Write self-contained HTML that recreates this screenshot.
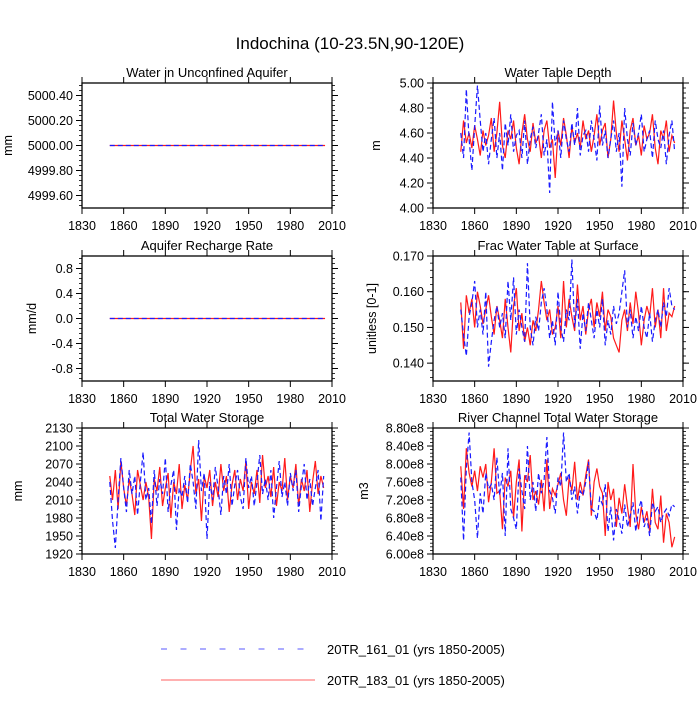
<!DOCTYPE html>
<html><head><meta charset="utf-8"><style>
body{margin:0;background:#fff;}
svg text{font-family:"Liberation Sans",sans-serif;fill:#000;}
</style></head><body>
<svg id="chart" width="700" height="700" viewBox="0 0 700 700" xmlns="http://www.w3.org/2000/svg">
<text x="350" y="49" font-size="17" text-anchor="middle">Indochina (10-23.5N,90-120E)</text>
<g>
<line x1="161" y1="649" x2="315" y2="649" stroke="#5a5aff" stroke-width="1" stroke-dasharray="6,13.5"/>
<text x="327" y="654" font-size="13">20TR_161_01 (yrs 1850-2005)</text>
<line x1="161" y1="680" x2="315" y2="680" stroke="#ff6060" stroke-width="1"/>
<text x="327" y="685" font-size="13">20TR_183_01 (yrs 1850-2005)</text>
</g>
</svg>
<script>
const xTicks=[1830,1860,1890,1920,1950,1980,2010];
const startYear=1850, stepYears=2;
const aquiferRed=[5000,5000], aquiferBlue=[5000,5000];
const rechargeRed=[0,0], rechargeBlue=[0,0];
const depthRed=[4.45,4.70,4.52,4.60,4.48,4.66,4.55,4.42,4.62,4.50,4.58,4.72,4.45,4.60,4.85,4.50,4.40,4.62,4.55,4.70,4.48,4.35,4.60,4.75,4.55,4.45,4.68,4.52,4.58,4.40,4.62,4.70,4.48,4.55,4.24,4.62,4.50,4.72,4.58,4.40,4.65,4.52,4.60,4.48,4.70,4.55,4.62,4.45,4.58,4.75,4.50,4.62,4.68,4.40,4.55,4.86,4.60,4.45,4.70,4.55,4.38,4.62,4.72,4.50,4.58,4.42,4.66,4.55,4.60,4.75,4.48,4.35,4.62,4.55,4.70,4.45,4.58,4.52];
const depthBlue=[4.60,4.40,4.95,4.55,4.30,4.65,4.98,4.70,4.45,4.60,4.35,4.55,4.72,4.40,4.60,4.30,4.68,4.50,4.75,4.45,4.58,4.62,4.40,4.70,4.35,4.55,4.65,4.48,4.60,4.75,4.42,4.55,4.12,4.85,4.50,4.62,4.40,4.70,4.55,4.45,4.68,4.50,4.80,4.42,4.58,4.62,4.45,4.70,4.55,4.38,4.82,4.50,4.62,4.40,4.55,4.70,4.45,4.60,4.17,4.80,4.55,4.42,4.68,4.50,4.60,4.75,4.45,4.55,4.62,4.40,4.70,4.55,4.48,4.62,4.35,4.58,4.70,4.45];
const fracRed=[0.157,0.144,0.159,0.154,0.158,0.150,0.160,0.156,0.151,0.155,0.159,0.153,0.148,0.156,0.152,0.147,0.158,0.150,0.143,0.156,0.161,0.149,0.154,0.146,0.150,0.145,0.152,0.149,0.155,0.163,0.157,0.152,0.155,0.148,0.150,0.156,0.147,0.163,0.150,0.158,0.153,0.149,0.162,0.152,0.156,0.148,0.155,0.158,0.150,0.157,0.153,0.160,0.149,0.155,0.153,0.147,0.145,0.143,0.152,0.155,0.149,0.157,0.151,0.160,0.154,0.145,0.152,0.156,0.153,0.161,0.150,0.155,0.147,0.161,0.149,0.154,0.153,0.156];
const fracBlue=[0.155,0.148,0.142,0.153,0.157,0.163,0.150,0.155,0.148,0.160,0.139,0.146,0.152,0.156,0.150,0.154,0.147,0.163,0.152,0.164,0.148,0.155,0.150,0.146,0.168,0.150,0.145,0.153,0.149,0.157,0.161,0.155,0.147,0.152,0.145,0.160,0.150,0.146,0.155,0.152,0.169,0.150,0.158,0.144,0.154,0.149,0.157,0.152,0.147,0.155,0.150,0.158,0.145,0.152,0.148,0.156,0.151,0.154,0.160,0.166,0.150,0.155,0.147,0.153,0.149,0.156,0.150,0.147,0.154,0.146,0.152,0.155,0.150,0.157,0.153,0.161,0.156,0.155];
const twsRed=[2050,2010,2060,1995,2075,2030,2000,2045,2020,1985,2060,2035,2010,2040,2015,1945,2045,2025,2065,2000,2030,2055,1980,2040,2020,2070,1995,2035,2010,2060,2100,2020,2045,1975,2050,2030,2060,2000,2040,2015,2070,2025,2050,1990,2035,2060,2010,2045,2025,2075,1995,2040,2020,2060,2005,2085,2030,2050,2015,2065,2000,2040,2025,2080,2010,2050,2030,2070,2000,2045,2025,2060,1990,2040,2075,2020,2050,2030];
const twsBlue=[2040,1975,1930,2010,2080,2030,1990,2060,2020,2050,1985,2040,2090,2010,2030,1970,2060,2000,2045,2020,2080,1990,2035,2060,1960,2030,2015,2050,2005,2070,2040,1995,2110,2025,2055,1945,2040,2010,2065,2030,1985,2050,2020,2070,2000,2035,2060,2015,1995,2080,2030,2050,2000,2040,2085,2020,2045,2010,2060,1980,2030,2075,2015,2040,2000,2055,2025,2060,1990,2035,2070,2010,2045,2000,2030,2060,1975,2050];
const riverRed=[7.95,7.00,8.35,7.80,7.50,7.85,7.40,7.95,7.70,8.00,7.15,7.60,8.35,7.35,7.40,6.55,7.70,7.50,7.85,6.80,7.60,8.10,6.50,7.75,7.60,8.20,7.20,7.40,7.10,7.65,6.95,8.10,7.00,7.45,7.30,7.55,7.80,7.20,6.85,7.70,7.40,8.05,7.20,7.60,7.30,7.75,8.10,6.85,7.60,7.90,7.50,7.35,6.40,7.60,7.20,7.45,6.60,7.25,6.90,7.55,7.05,6.60,8.00,6.90,6.55,7.05,6.70,6.95,6.50,7.45,6.70,6.55,7.30,6.25,6.90,6.70,6.15,6.38];
const riverBlue=[7.70,6.30,7.90,8.70,7.60,7.20,6.35,7.35,6.90,7.80,7.45,7.55,7.20,8.15,7.30,7.80,6.40,8.35,7.00,6.80,6.55,7.90,7.40,7.00,8.40,7.20,7.60,6.95,7.80,7.35,7.65,8.60,7.40,7.25,6.90,7.70,7.50,8.70,7.60,7.80,7.20,7.50,6.90,7.40,7.30,7.60,8.05,7.00,6.95,6.75,7.25,7.10,7.55,6.50,7.05,6.30,7.00,6.75,6.45,7.10,6.60,6.85,7.15,6.50,7.00,7.20,6.60,6.80,6.40,7.15,6.95,7.05,6.70,6.90,7.00,6.85,7.10,7.05];
const aquiferTicks=[4999.6,4999.8,5000.0,5000.2,5000.4];
const aquiferTickLabels=["4999.60","4999.80","5000.00","5000.20","5000.40"];
const rechargeTicks=[-0.8,-0.4,0,0.4,0.8];
const rechargeTickLabels=["-0.8","-0.4","0.0","0.4","0.8"];
const depthTicks=[4.0,4.2,4.4,4.6,4.8,5.0];
const depthTickLabels=["4.00","4.20","4.40","4.60","4.80","5.00"];
const fracTicks=[0.14,0.15,0.16,0.17];
const fracTickLabels=["0.140","0.150","0.160","0.170"];
const twsTicks=[1920,1950,1980,2010,2040,2070,2100,2130];
const twsTickLabels=["1920","1950","1980","2010","2040","2070","2100","2130"];
const riverTicks=[6.0,6.4,6.8,7.2,7.6,8.0,8.4,8.8];
const riverTickLabels=["6.00e8","6.40e8","6.80e8","7.20e8","7.60e8","8.00e8","8.40e8","8.80e8"];

const NS="http://www.w3.org/2000/svg";
const svg=document.getElementById('chart');
function mk(tag,attrs,parent){const e=document.createElementNS(NS,tag);for(const k in attrs)e.setAttribute(k,attrs[k]);(parent||svg).appendChild(e);return e;}

function panel(o){
  const g=mk('g',{});
  
  
  const L=o.x0,R=o.x1,T=o.y0,B=o.y1;
  const xs=v=>L+(v-1830)/(2010-1830)*(R-L);
  const ys=v=>B-(v-o.ymin)/(o.ymax-o.ymin)*(B-T);
  const t=mk('text',{x:(L+R)/2,y:T-6,'font-size':13,'text-anchor':'middle'},g);
  t.textContent=o.title;
  
  
  const step=o.ticks[1]-o.ticks[0];
  for(let v=o.ticks[0]-step;v<=o.ymax+1e-9;v+=step/5){
    if(v<o.ymin-1e-9)continue;
    const y=ys(v);
    mk('line',{x1:L-3,x2:L,y1:y,y2:y,stroke:'#000','stroke-width':0.8},g);
    mk('line',{x1:R,x2:R+3,y1:y,y2:y,stroke:'#000','stroke-width':0.8},g);
  }
  o.ticks.forEach((v,i)=>{
    const y=ys(v);
    mk('line',{x1:L-6,x2:L,y1:y,y2:y,stroke:'#000','stroke-width':1},g);
    mk('line',{x1:R,x2:R+6,y1:y,y2:y,stroke:'#000','stroke-width':1},g);
    const tl=mk('text',{x:L-9,y:y+4.5,'font-size':12.5,'text-anchor':'end'},g);
    tl.textContent=o.labels[i];
    
    
  });
  xTicks.forEach(v=>{
    const x=xs(v);
    mk('line',{x1:x,x2:x,y1:B,y2:B+6,stroke:'#000','stroke-width':1},g);
    mk('line',{x1:x,x2:x,y1:T-6,y2:T,stroke:'#000','stroke-width':1},g);
    const tl=mk('text',{x:x,y:B+22,'font-size':12.5,'text-anchor':'middle'},g);
    tl.textContent=v;
    
    
  });
  const yt=mk('text',{x:0,y:0,'font-size':12.5,'text-anchor':'middle',transform:`translate(${o.ylx},${(T+B)/2}) rotate(-90)`},g);
  yt.textContent=o.ylabel;
  
  
  function series(arr,color,dash,name){
    let pts;
    if(arr.length===2) pts=[[xs(1850),ys(arr[0])],[xs(2005),ys(arr[1])]];
    else pts=arr.map((v,i)=>[xs(startYear+stepYears*i),ys(v)]);
    const p=mk('polyline',{points:pts.map(q=>q.join(',')).join(' '),fill:'none',stroke:color,'stroke-width':1.2,'stroke-dasharray':dash||'none'},g);
    
    
  }
  series(o.red,'#ff1a1a',null,'series-183-line');
  series(o.blue,'#1a1aff','5,3','series-161-line');
  const f=mk('rect',{x:L,y:T,width:R-L,height:B-T,fill:'none',stroke:'#000','stroke-width':1.3},g);
  
  
}
const LX0=82,LX1=332,RX0=433,RX1=683;
panel({name:'panel-aquifer-water',title:'Water in Unconfined Aquifer',x0:LX0,x1:LX1,y0:83,y1:208,ymin:4999.5,ymax:5000.5,ticks:aquiferTicks,labels:aquiferTickLabels,ylabel:'mm',ylx:12,red:aquiferRed,blue:aquiferBlue});
panel({name:'panel-water-table-depth',title:'Water Table Depth',x0:RX0,x1:RX1,y0:83,y1:208,ymin:4.0,ymax:5.0,ticks:depthTicks,labels:depthTickLabels,ylabel:'m',ylx:380,red:depthRed,blue:depthBlue});
panel({name:'panel-recharge-rate',title:'Aquifer Recharge Rate',x0:LX0,x1:LX1,y0:256,y1:381,ymin:-1,ymax:1,ticks:rechargeTicks,labels:rechargeTickLabels,ylabel:'mm/d',ylx:36,red:rechargeRed,blue:rechargeBlue});
panel({name:'panel-frac-water-table',title:'Frac Water Table at Surface',x0:RX0,x1:RX1,y0:256,y1:381,ymin:0.135,ymax:0.170,ticks:fracTicks,labels:fracTickLabels,ylabel:'unitless [0-1]',ylx:376,red:fracRed,blue:fracBlue});
panel({name:'panel-total-water-storage',title:'Total Water Storage',x0:LX0,x1:LX1,y0:428,y1:554,ymin:1920,ymax:2130,ticks:twsTicks,labels:twsTickLabels,ylabel:'mm',ylx:22,red:twsRed,blue:twsBlue});
panel({name:'panel-river-storage',title:'River Channel Total Water Storage',x0:RX0,x1:RX1,y0:428,y1:554,ymin:6.0,ymax:8.8,ticks:riverTicks,labels:riverTickLabels,ylabel:'m3',ylx:368,red:riverRed,blue:riverBlue});
</script>
</body></html>
